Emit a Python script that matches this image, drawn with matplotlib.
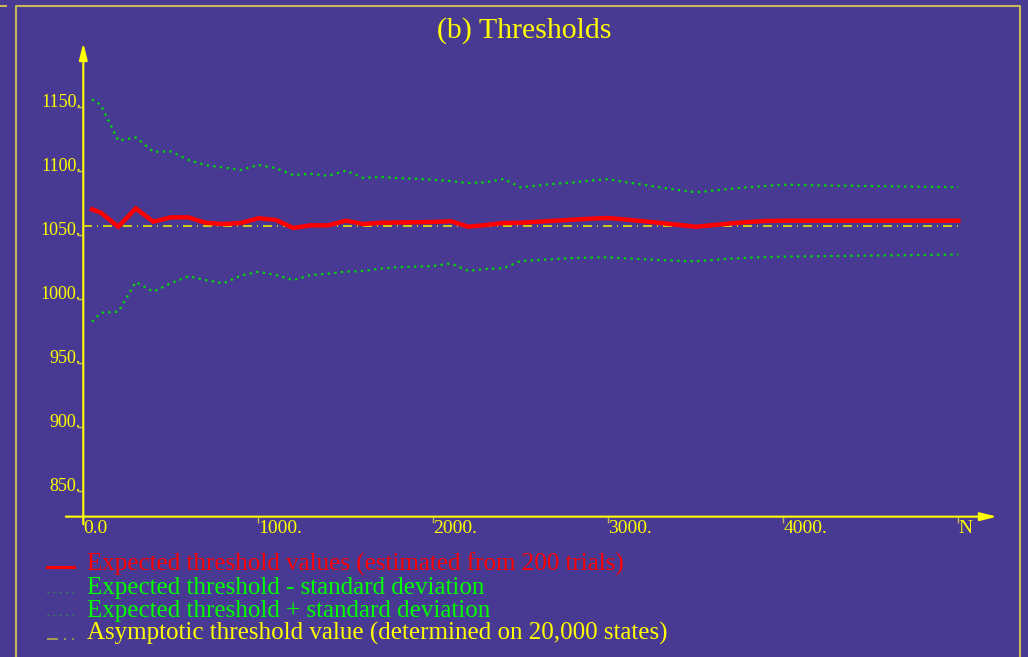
import matplotlib
matplotlib.use("Agg")
import matplotlib.pyplot as plt
from matplotlib.lines import Line2D

# ---------------- data ----------------
n_states = [50] + list(range(100, 5001, 100))
mean_threshold = [1070.3, 1067.7, 1056.7, 1071.0, 1060.6, 1064.0, 1064.0, 1059.8, 1058.8, 1059.6,
                  1063.3, 1062.0, 1055.7, 1057.8, 1057.8, 1061.4, 1058.8, 1059.8, 1060.0, 1060.2,
                  1060.4, 1061.0, 1056.7, 1058.0, 1059.6, 1059.8, 1060.6, 1061.4, 1062.2, 1063.0,
                  1063.5, 1062.3, 1061.0, 1059.6, 1058.2, 1056.7, 1058.0, 1059.3, 1060.4, 1061.2,
                  1061.4, 1061.4, 1061.4, 1061.4, 1061.4, 1061.4, 1061.4, 1061.4, 1061.4, 1061.4,
                  1061.4]
upper_threshold = [1156.3, 1151.8, 1124.0, 1126.5, 1115.3, 1115.5, 1109.0, 1104.8, 1103.0, 1101.0,
                   1105.0, 1102.5, 1097.0, 1098.0, 1096.5, 1100.5, 1094.8, 1095.6, 1094.7, 1094.2,
                   1093.4, 1092.4, 1090.8, 1091.4, 1094.0, 1087.5, 1089.0, 1090.3, 1091.3, 1092.8,
                   1093.9, 1091.5, 1089.5, 1087.4, 1085.4, 1083.6, 1085.0, 1086.3, 1087.5, 1088.6,
                   1089.5, 1089.3, 1089.0, 1088.8, 1088.7, 1088.5, 1088.3, 1088.1, 1087.9, 1087.7,
                   1087.5]
lower_threshold = [982.5, 989.5, 990.3, 1013.5, 1006.0, 1012.5, 1018.0, 1015.0, 1012.5, 1018.5,
                   1021.5, 1019.0, 1015.0, 1019.0, 1020.0, 1021.6, 1022.1, 1024.0, 1025.2, 1025.5,
                   1026.0, 1028.0, 1022.2, 1023.7, 1024.3, 1030.0, 1030.7, 1031.5, 1032.3, 1032.6,
                   1032.8, 1032.0, 1031.3, 1030.7, 1030.1, 1029.7, 1030.8, 1031.8, 1032.5, 1033.0,
                   1033.3, 1033.5, 1033.7, 1033.8, 1034.0, 1034.2, 1034.4, 1034.5, 1034.6, 1034.8,
                   1035.0]
asymptote_value = 1057.3
asymptote_range = [0, 5000]

x_ticks = [0, 1000, 2000, 3000, 4000, 5000]
x_tick_labels = ["0.0", "1000.", "2000.", "3000.", "4000.", "N"]
y_ticks = [850, 900, 950, 1000, 1050, 1100, 1150]
y_tick_labels = ["850.", "900.", "950.", "1000.", "1050.", "1100.", "1150."]

title = "(b) Thresholds"
legend_labels = ["Expected threshold values (estimated from 200 trials)",
                 "Expected threshold - standard deviation",
                 "Expected threshold + standard deviation",
                 "Asymptotic threshold value (determined on 20,000 states)"]

# ---------------- style ----------------
BG = "#483A92"
YEL = "#FFFF00"
TAN = "#C8B85A"
RED = "#FF0000"
GRN = "#00E000"
SERIF = ["Liberation Serif", "DejaVu Serif"]

W, H = 1028, 657
fig = plt.figure(figsize=(W / 100, H / 100), dpi=100)
fig.patch.set_facecolor(BG)

def fx(px):
    return px / W

def fy(py):
    return 1 - py / H

# frame
fig.add_artist(Line2D([fx(16), fx(16), fx(1020), fx(1020)],
                      [fy(700), fy(5.5), fy(5.5), fy(700)],
                      transform=fig.transFigure, color=TAN, lw=1.5))
fig.add_artist(Line2D([fx(0), fx(6)], [fy(5.5), fy(5.5)],
                      transform=fig.transFigure, color=TAN, lw=1.5))

# axes
ax_l, ax_r, ax_t, ax_b = 60, 1000, 40, 530
ax = fig.add_axes([fx(ax_l), fy(ax_b), (ax_r - ax_l) / W, (ax_b - ax_t) / H])
ax.set_facecolor(BG)
ax.patch.set_alpha(0)
ax.set_xlim((ax_l - 83.3) / 0.175, (ax_r - 83.3) / 0.175)
ax.set_ylim(1150 - (ax_b - 107.3) / 1.28, 1150 + (107.3 - ax_t) / 1.28)
for s in ax.spines.values():
    s.set_visible(False)

y0 = 830.2
# axis lines with arrows
ax.annotate("", xy=(5221, y0), xytext=(-100, y0),
            arrowprops=dict(arrowstyle="-|>,head_length=1.0,head_width=0.25",
                            color=YEL, lw=1.5, shrinkA=0, shrinkB=0), annotation_clip=False)
ax.annotate("", xy=(0, 1200.3), xytext=(0, y0 - 6),
            arrowprops=dict(arrowstyle="-|>,head_length=1.0,head_width=0.25",
                            color=YEL, lw=1.5, shrinkA=0, shrinkB=0), annotation_clip=False)

# ticks
ax.set_xticks(x_ticks)
ax.set_xticklabels(x_tick_labels)
ax.set_yticks(y_ticks)
ax.set_yticklabels(y_tick_labels)
ax.tick_params(axis="x", direction="out", length=4.0, width=1.0, color=TAN,
               labelcolor=YEL, labelsize=14, pad=-1.8)
ax.tick_params(axis="y", direction="out", length=4.5, width=1.0, color=TAN,
               labelcolor=YEL, labelsize=13, pad=-2.8)
ax.xaxis.set_ticks_position("bottom")
ax.yaxis.set_ticks_position("left")
ax.spines["bottom"].set_position(("data", y0))
ax.spines["left"].set_position(("data", 0))
for lab in ax.get_xticklabels():
    lab.set_fontfamily(SERIF)
    lab.set_ha("left")
for lab in ax.get_yticklabels():
    lab.set_fontfamily(SERIF)
    lab.set_va("baseline")

# data
ax.plot(asymptote_range, [asymptote_value, asymptote_value], color="#E6E600", lw=1.2,
        linestyle=(0, (5.4, 3, 0.6, 3)), zorder=3)
ax.plot(n_states, upper_threshold, color=GRN, lw=1.6, linestyle=(0, (1, 2)), zorder=3)
ax.plot(n_states, lower_threshold, color=GRN, lw=1.6, linestyle=(0, (1, 2)), zorder=3)
ax.plot(n_states, mean_threshold, color=RED, lw=3.2, zorder=4, solid_joinstyle="miter")

# title
fig.text(fx(524), fy(38), title, color=YEL, fontsize=21.5, family=SERIF,
         ha="center", va="baseline")

# legend
leg_colors = [RED, "#00FF00", "#00FF00", YEL]
baselines = [570.7, 594, 616.7, 640]
for lab, col, yb in zip(legend_labels, leg_colors, baselines):
    fig.text(fx(87), fy(yb), lab, color=col, fontsize=18, family=SERIF,
             ha="left", va="baseline")
# legend samples
fig.add_artist(Line2D([fx(47), fx(74)], [fy(567.3), fy(567.3)], transform=fig.transFigure,
                      color=RED, lw=2.2))
for yb in (592.3, 615):
    fig.add_artist(Line2D([fx(47), fx(73)], [fy(yb), fy(yb)], transform=fig.transFigure,
                          color="#30A030", lw=1.0, linestyle=(0, (1, 3.5))))
fig.add_artist(Line2D([fx(47), fx(74)], [fy(639), fy(639)], transform=fig.transFigure,
                      color="#B0A850", lw=1.3, linestyle=(0, (6, 3.5, 1, 3.5))))

fig.savefig("out.png", dpi=100, facecolor=BG)
